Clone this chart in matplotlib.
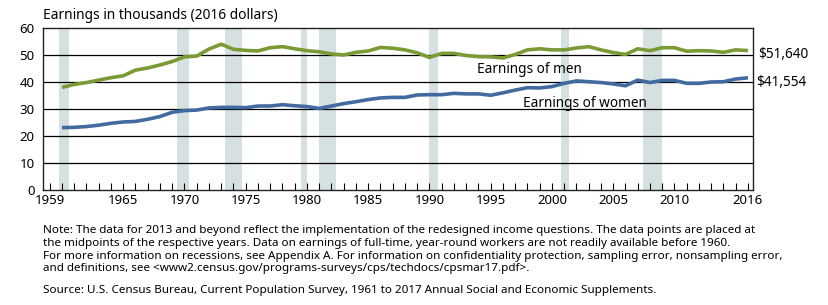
import matplotlib.pyplot as plt
import numpy as np

plt.rcParams['font.family'] = ['Noto Sans', 'DejaVu Sans']

# Data (thousands of 2016 dollars)
years = np.arange(1960, 2017)
men = [38.0, 39.1, 39.8, 40.7, 41.6, 42.3, 44.4, 45.2, 46.3, 47.6,
       49.3, 49.6, 52.2, 54.0, 52.1, 51.7, 51.5, 52.7, 53.1, 52.3,
       51.6, 51.2, 50.4, 50.0, 51.0, 51.5, 52.8, 52.5, 51.9, 50.8,
       49.1, 50.6, 50.6, 49.8, 49.4, 49.3, 48.9, 50.2, 51.9, 52.3,
       51.9, 51.9, 52.6, 53.1, 51.9, 50.9, 50.2, 52.3, 51.6, 52.7,
       52.7, 51.4, 51.6, 51.5, 51.0, 51.9, 51.64]
women = [23.1, 23.2, 23.5, 24.0, 24.7, 25.2, 25.4, 26.2, 27.2, 28.8,
         29.4, 29.6, 30.4, 30.6, 30.6, 30.5, 31.1, 31.1, 31.6, 31.2,
         30.9, 30.2, 31.1, 32.0, 32.7, 33.5, 34.1, 34.3, 34.3, 35.2,
         35.3, 35.3, 35.8, 35.6, 35.6, 35.1, 36.0, 37.0, 37.9, 37.8,
         38.3, 39.5, 40.4, 40.1, 39.8, 39.3, 38.6, 40.7, 39.8, 40.6,
         40.6, 39.5, 39.5, 40.0, 40.1, 41.1, 41.554]

# Recessions (start, end), shifted so year midpoints line up with points
recessions = [(1959.75, 1960.6), (1969.42, 1970.37), (1973.33, 1974.7),
              (1979.5, 1980.0), (1981.0, 1982.37), (1990.0, 1990.7),
              (2000.7, 2001.37), (2007.42, 2008.95)]

xtick_labels = [1959, 1965, 1970, 1975, 1980, 1985, 1990, 1995, 2000, 2005, 2010, 2016]

green = '#7a9a35'
blue = '#416ba0'
shade = '#d5e1e1'

fig = plt.figure(figsize=(8.29, 3.05), dpi=100)
ax = fig.add_axes([43/829, 115/305, 710/829, 162/305])

for s, e in recessions:
    ax.axvspan(s, e, color=shade, lw=0, zorder=0)

for y in range(10, 60, 10):
    ax.axhline(y, color='black', lw=0.9, zorder=1)

ax.plot(years, men, color=green, lw=2.6, solid_capstyle='butt', zorder=3)
ax.plot(years, women, color=blue, lw=2.6, solid_capstyle='butt', zorder=3)

ax.set_xlim(1958.45, 2016.41)
ax.set_ylim(0, 60)
ax.set_yticks(range(0, 61, 10))
ax.set_xticks(xtick_labels)
ax.set_xticklabels([str(x) for x in xtick_labels])
ax.set_xticks(np.arange(1959, 2017), minor=True)
ax.tick_params(axis='x', which='both', direction='in', length=5, width=0.8,
               labelsize=9.5, pad=3)
ax.tick_params(axis='y', length=0, labelsize=9.5, pad=6)
for sp in ax.spines.values():
    sp.set_color('#222222')
    sp.set_linewidth(1.0)

ax.text(0, 1.03, 'Earnings in thousands (2016 dollars)', transform=ax.transAxes,
        fontsize=9.9, ha='left', va='bottom')

ax.text(1998.2, 44.8, 'Earnings of men', fontsize=9.8, ha='center', va='center')
ax.text(2002.7, 32.2, 'Earnings of women', fontsize=9.8, ha='center', va='center')
ax.text(1.007, (190 - 55) / 162, '$51,640', transform=ax.transAxes,
        fontsize=9.8, ha='left', va='center')
ax.text(1.005, (190 - 82) / 162, '$41,554', transform=ax.transAxes,
        fontsize=9.8, ha='left', va='center')

note = ("Note: The data for 2013 and beyond reflect the implementation of the redesigned income questions. "
        "The data points are placed at\n"
        "the midpoints of the respective years. Data on earnings of full-time, year-round workers "
        "are not readily available before 1960.\n"
        "For more information on recessions, see Appendix A. For information on confidentiality protection, "
        "sampling error, nonsampling error,\n"
        "and definitions, see <www2.census.gov/programs-surveys/cps/techdocs/cpsmar17.pdf>.")
fig.text(43/829, 1 - 225/305, note, fontsize=8.4, ha='left', va='top', linespacing=1.22)
fig.text(43/829, 1 - 285/305,
         'Source: U.S. Census Bureau, Current Population Survey, 1961 to 2017 Annual Social and Economic Supplements.',
         fontsize=8.4, ha='left', va='top')

fig.savefig('out.png', dpi=100)
